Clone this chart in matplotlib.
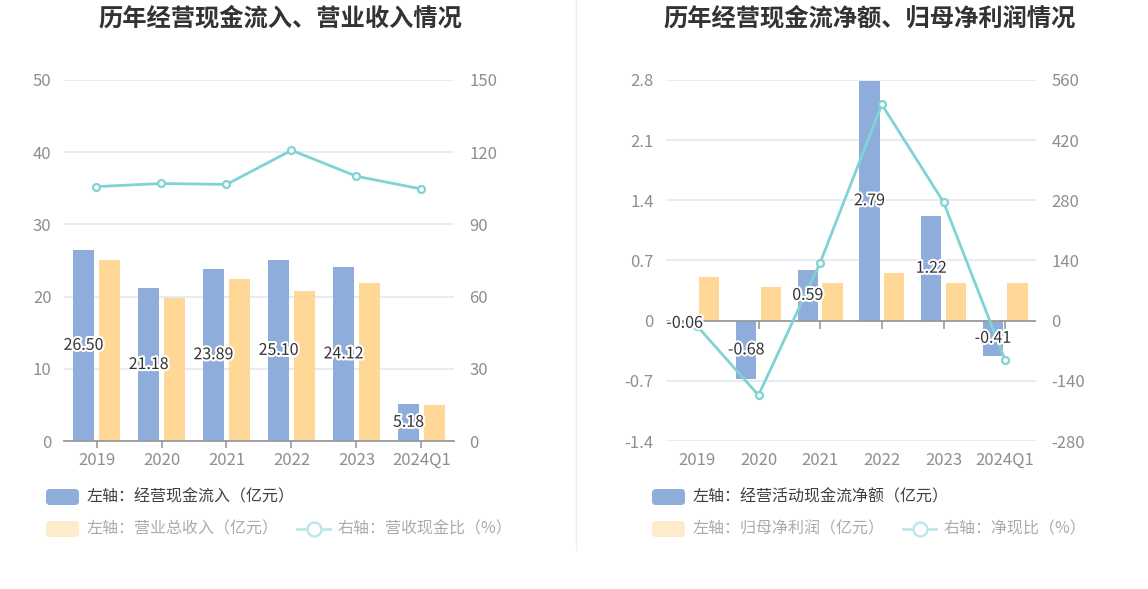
import matplotlib
matplotlib.use('Agg')
import matplotlib.pyplot as plt
import matplotlib.patheffects as pe
from matplotlib.patches import FancyBboxPatch
import numpy as np

plt.rcParams['font.family'] = ['Noto Sans CJK SC', 'DejaVu Sans']

## data
years = ['2019', '2020', '2021', '2022', '2023', '2024Q1']
cash_in = [26.50, 21.18, 23.89, 25.10, 24.12, 5.18]        # 经营现金流入 (亿元)
revenue = [25.08, 19.80, 22.40, 20.78, 21.95, 4.95]        # 营业总收入 (亿元)
cash_ratio = [105.7, 107.0, 106.6, 120.8, 110.0, 104.7]    # 营收现金比 (%)

net_cash = [-0.06, -0.68, 0.59, 2.79, 1.22, -0.41]         # 经营活动现金流净额 (亿元)
net_profit = [0.51, 0.39, 0.44, 0.56, 0.44, 0.44]          # 归母净利润 (亿元)
net_ratio = [-11.8, -173.4, 135.0, 503.0, 276.0, -92.0]    # 净现比 (%)

left_ticks = [0, 10, 20, 30, 40, 50]
left_ticks2 = [0, 30, 60, 90, 120, 150]
right_ticks = [-1.4, -0.7, 0, 0.7, 1.4, 2.1, 2.8]
right_ticks2 = [-280, -140, 0, 140, 280, 420, 560]

BLUE = '#8EADDB'
ORANGE = '#FFD797'
TEAL = '#80D3D5'
GRID = '#E3E7F2'
AXIS = '#9A9A9A'
TICK = '#8E8E8E'

W, H = 1148, 589
fig = plt.figure(figsize=(W / 100, H / 100), dpi=100)


def panel(rect, bars1, bars2, line, yt, yt2, zero_axis):
    x = np.arange(len(years))
    ax = fig.add_axes(rect)
    ax.set_xlim(-0.5, len(years) - 0.5)
    ax.set_ylim(yt[0], yt[-1])
    ax.set_yticks(yt)
    ax.set_yticklabels(['%g' % v for v in yt])
    for s in ['top', 'right', 'left']:
        ax.spines[s].set_visible(False)
    ax.yaxis.grid(True, color=GRID, linewidth=1.2)
    ax.set_axisbelow(True)
    ax.tick_params(axis='y', length=0, pad=9, labelsize=12, labelcolor=TICK)
    ax.set_xticks(x)
    ax.set_xticklabels(years)
    if zero_axis:
        ax.spines['bottom'].set_visible(False)
        ax.tick_params(axis='x', length=0, pad=8, labelsize=12, labelcolor=TICK)
        ax.axhline(0, color=AXIS, linewidth=1.3, zorder=3)
        ax.plot(x, np.zeros(len(x)), linestyle='none', marker=3, markersize=6,
                color=AXIS, markeredgewidth=1.2, zorder=3)
    else:
        ax.spines['bottom'].set_color(AXIS)
        ax.spines['bottom'].set_linewidth(1.3)
        ax.tick_params(axis='x', length=5, width=1.2, color=AXIS, pad=3,
                       labelsize=12, labelcolor=TICK)

    bw = 0.33
    ax.bar(x - 0.2, bars1, width=bw, color=BLUE, zorder=2)
    ax.bar(x + 0.2, bars2, width=bw, color=ORANGE, zorder=2)

    ax2 = ax.twinx()
    ax2.set_ylim(yt2[0], yt2[-1])
    ax2.set_yticks(yt2)
    ax2.set_yticklabels(['%g' % v for v in yt2])
    for s in ax2.spines.values():
        s.set_visible(False)
    ax2.tick_params(axis='y', length=0, pad=11, labelsize=12, labelcolor=TICK)
    ax2.plot(x, line, color=TEAL, linewidth=2, marker='o', markersize=5,
             markerfacecolor='white', markeredgecolor=TEAL, markeredgewidth=1.6,
             zorder=4)
    for xi, v in zip(x, bars1):
        ax2.text(xi - 0.2, v / 2, '%.2f' % v, transform=ax.transData,
                 ha='center', va='center', fontsize=11.5, color='#333333', zorder=6,
                 path_effects=[pe.withStroke(linewidth=3, foreground='white')])
    return ax, ax2


panel([64 / W, 1 - 441 / H, 390 / W, 361 / H], cash_in, revenue, cash_ratio,
      left_ticks, left_ticks2, False)
panel([666 / W, 1 - 441 / H, 370 / W, 361 / H], net_cash, net_profit, net_ratio,
      right_ticks, right_ticks2, True)

## overlay in pixel coords for titles, legends and divider
ov = fig.add_axes([0, 0, 1, 1], zorder=10)
ov.set_xlim(0, W)
ov.set_ylim(H, 0)
ov.axis('off')
ov.patch.set_visible(False)

ov.plot([576, 576], [0, 550], color='#EEEEEE', linewidth=1)
ov.text(280, 18, '历年经营现金流入、营业收入情况', ha='center', va='center',
        fontsize=17.5, fontweight='bold', color='#333333')
ov.text(870, 18, '历年经营现金流净额、归母净利润情况', ha='center', va='center',
        fontsize=17.5, fontweight='bold', color='#333333')


def legend_box(x0, yc, color, label, tcolor):
    ov.add_patch(FancyBboxPatch((x0, yc - 8), 33, 16,
                                boxstyle='round,pad=0,rounding_size=4',
                                facecolor=color, edgecolor='none'))
    ov.text(x0 + 41, yc, label, ha='left', va='center', fontsize=11.5, color=tcolor)


def legend_line(x0, yc, label):
    ov.plot([x0, x0 + 33], [yc, yc], color='#BDE8EA', linewidth=2)
    ov.plot([x0 + 16.5], [yc], marker='o', markersize=10, markerfacecolor='white',
            markeredgecolor='#BDE8EA', markeredgewidth=1.8)
    ov.text(x0 + 41, yc, label, ha='left', va='center', fontsize=11.5, color='#ABABAB')


legend_box(46, 497, BLUE, '左轴：经营现金流入（亿元）', '#404040')
legend_box(46, 529, '#FEEBCB', '左轴：营业总收入（亿元）', '#ABABAB')
legend_line(297, 529, '右轴：营收现金比（%）')

legend_box(652, 497, BLUE, '左轴：经营活动现金流净额（亿元）', '#404040')
legend_box(652, 529, '#FEEBCB', '左轴：归母净利润（亿元）', '#ABABAB')
legend_line(903, 529, '右轴：净现比（%）')

fig.savefig('out.png', dpi=100)
